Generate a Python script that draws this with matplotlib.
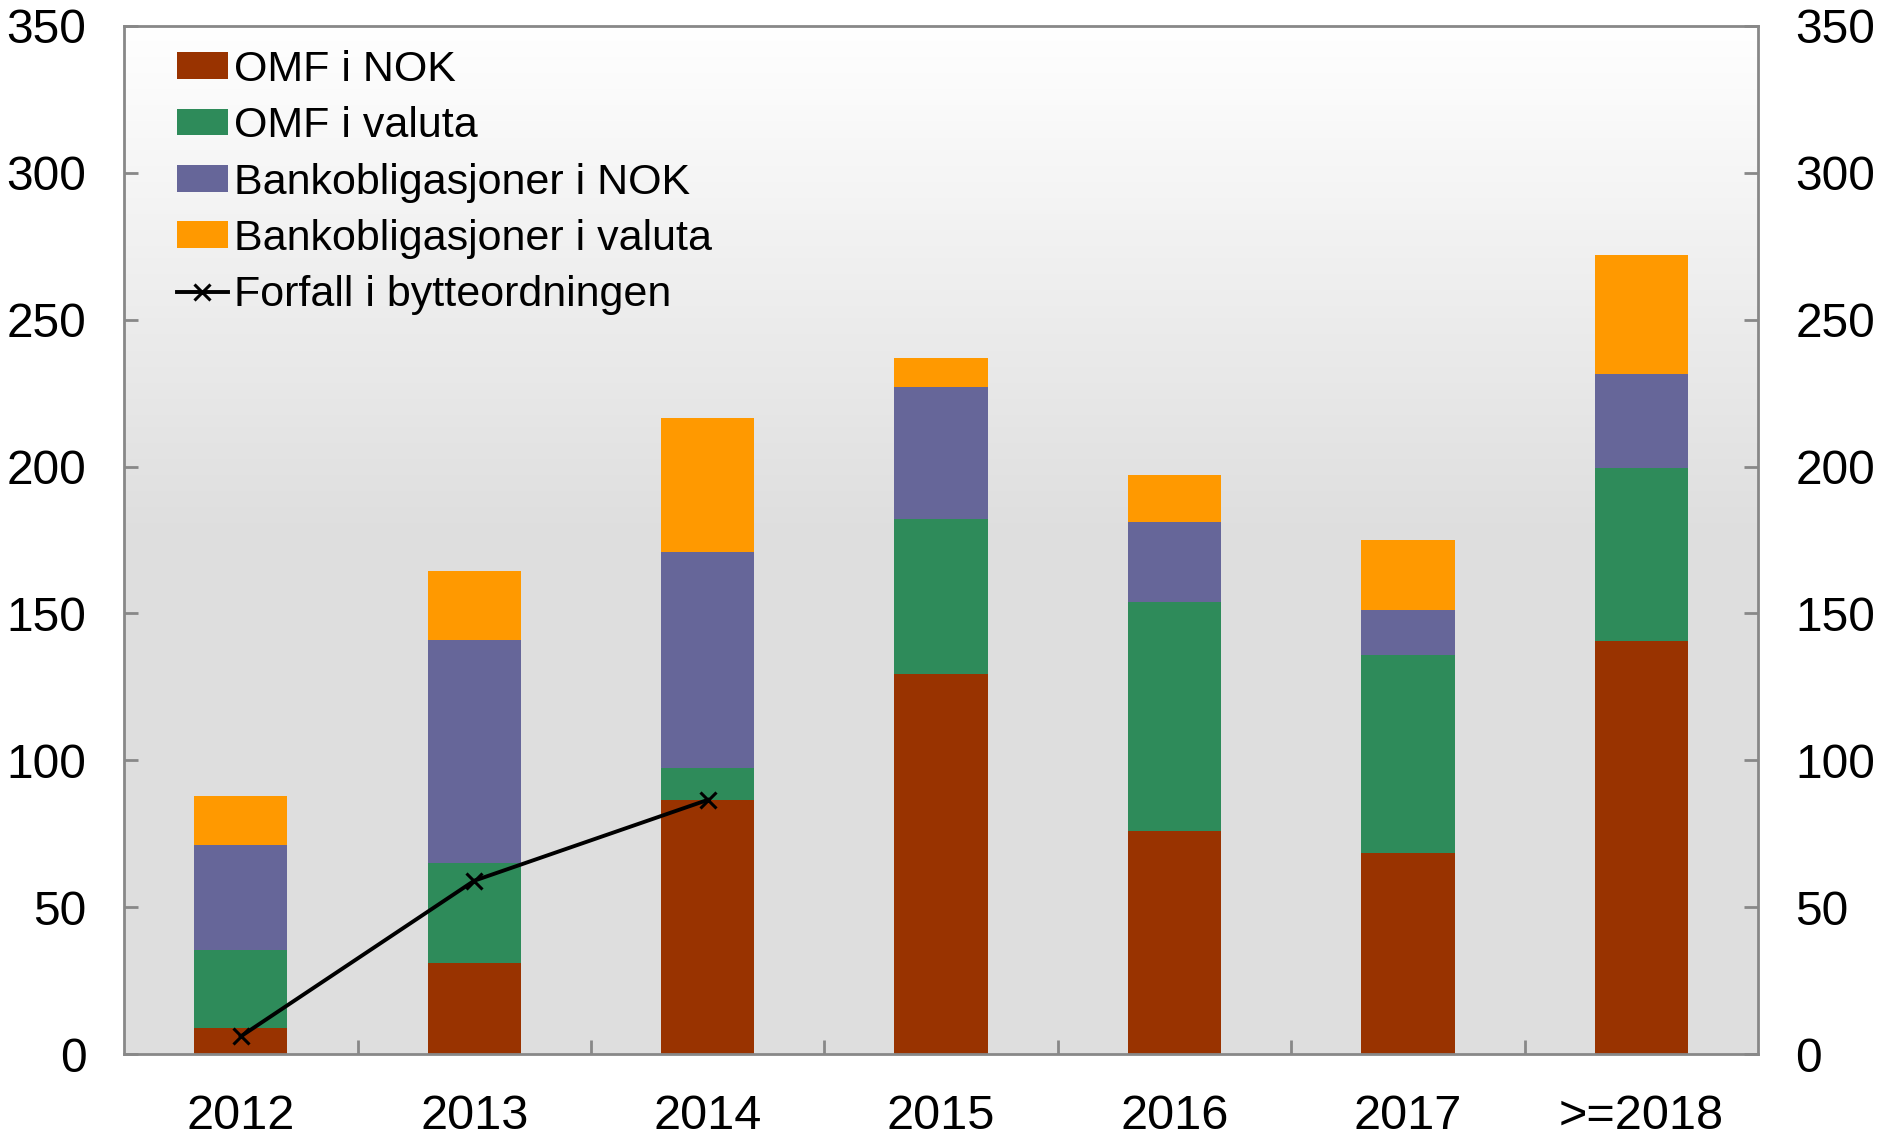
import numpy as np
import matplotlib
matplotlib.use("Agg")
import matplotlib.pyplot as plt
from matplotlib.colors import LinearSegmentedColormap

plt.rcParams['font.family'] = ['Liberation Sans', 'DejaVu Sans']

# Data (mrd. kroner)
categories = ["2012", "2013", "2014", "2015", "2016", "2017", ">=2018"]
omf_nok = [9, 31, 86.5, 129.5, 76, 68.5, 140.5]
omf_valuta = [26.5, 34, 11, 52.5, 78, 67.5, 59]
bank_nok = [35.5, 76, 73.5, 45, 27, 15, 32]
bank_valuta = [17, 23.5, 45.5, 10, 16, 24, 40.5]
bytte = [6, 59, 86.5]

series = [
    ("OMF i NOK", omf_nok, "#993300"),
    ("OMF i valuta", omf_valuta, "#2e8b5a"),
    ("Bankobligasjoner i NOK", bank_nok, "#666699"),
    ("Bankobligasjoner i valuta", bank_valuta, "#ff9900"),
]

fig = plt.figure(figsize=(18.83, 11.38), dpi=100)
ax = fig.add_axes([0.0659, 0.0738, 0.8677, 0.9034])

x = np.arange(len(categories))
ax.set_xlim(-0.5, len(categories) - 0.5)
ax.set_ylim(0, 350)

# gradient background: white at top fading to light grey
grad = np.concatenate([np.linspace(1, 0, 128), np.zeros(128)])[:, None]
cmap = LinearSegmentedColormap.from_list("bg", ["#dedede", "#ffffff"])
ax.imshow(grad, cmap=cmap, aspect="auto", extent=(-0.5, len(categories) - 0.5, 0, 350),
          origin="upper", zorder=0, vmin=0, vmax=1)

handles = []
bottom = np.zeros(len(categories))
for label, vals, color in series:
    h = ax.bar(x, vals, width=0.4, bottom=bottom, color=color, label=label, zorder=2)
    handles.append(h)
    bottom += np.array(vals)

line, = ax.plot(x[:len(bytte)], bytte, color="black", lw=2.8, marker="x", ms=11, mew=2.2,
                label="Forfall i bytteordningen", zorder=3)
handles.append(line)

for s in ax.spines.values():
    s.set_color("#888888")
    s.set_linewidth(2)

ax.set_yticks(np.arange(0, 351, 50))
ax.set_xticks(x)
ax.set_xticklabels(categories)
ax.set_xticks(x[:-1] + 0.5, minor=True)
ax.tick_params(axis="y", direction="in", length=10, width=2, color="#888888",
               labelsize=34.5, pad=27, left=True, right=True, labelleft=True, labelright=True)
ax.tick_params(axis="x", which="major", length=0, labelsize=35, pad=29)
ax.tick_params(axis="x", which="minor", direction="in", length=10, width=2, color="#888888")

ax.legend(handles=handles, labels=[h.get_label() for h in handles], loc="upper left",
          frameon=False, fontsize=31, handlelength=1.2, handleheight=0.58,
          handletextpad=0.14, labelspacing=0.38, borderaxespad=0.3,
          bbox_to_anchor=(0.0137, 1.006))

fig.savefig("out.png", dpi=100)
